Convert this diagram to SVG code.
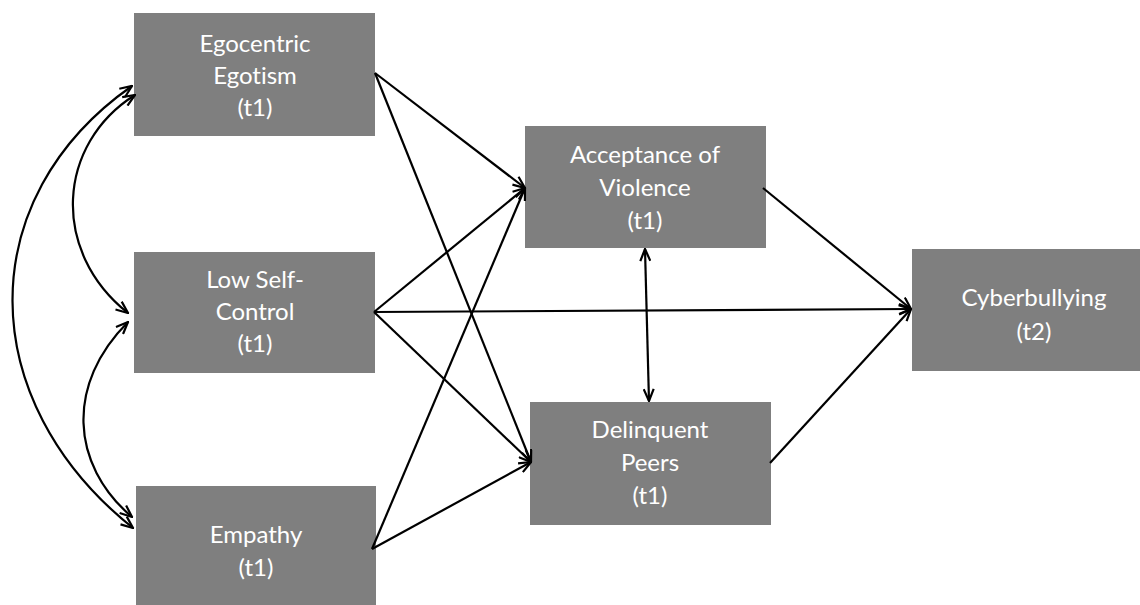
<svg xmlns="http://www.w3.org/2000/svg" width="1140" height="605" viewBox="0 0 1140 605">
<style>
.box{fill:#7f7f7f;}
.lbl{font-family:Lato,"Liberation Sans",sans-serif;font-size:24px;fill:#ffffff;text-anchor:middle;font-variant-ligatures:none;}
.c{fill:none;stroke:#000;stroke-width:2.2;}
</style>
<defs>
<marker id="ah" viewBox="0 0 14 12" refX="13" refY="6" markerWidth="14" markerHeight="12" markerUnits="userSpaceOnUse" orient="auto-start-reverse">
<path d="M1,1 L13,6 L1,11" fill="none" stroke="#000" stroke-width="2.2"/>
</marker>
</defs>
<rect width="1140" height="605" fill="#fff"/>
<g id="egocentric"><rect class="box" x="134" y="13" width="241" height="123"/><text class="lbl" x="255" y="52">Egocentric</text><text class="lbl" x="255" y="84">Egotism</text><text class="lbl" x="255" y="116">(t1)</text></g>
<g id="lowself"><rect class="box" x="134" y="252" width="241" height="121"/><text class="lbl" x="255" y="288">Low Self-</text><text class="lbl" x="255" y="320">Control</text><text class="lbl" x="255" y="352">(t1)</text></g>
<g id="empathy"><rect class="box" x="136" y="486" width="240" height="119"/><text class="lbl" x="256" y="543">Empathy</text><text class="lbl" x="256" y="576">(t1)</text></g>
<g id="acceptance"><rect class="box" x="525" y="126" width="241" height="122"/><text class="lbl" x="645" y="163">Acceptance of</text><text class="lbl" x="645" y="196">Violence</text><text class="lbl" x="645" y="229">(t1)</text></g>
<g id="delinquent"><rect class="box" x="530" y="402" width="241" height="123"/><text class="lbl" x="650" y="438">Delinquent</text><text class="lbl" x="650" y="471">Peers</text><text class="lbl" x="650" y="504">(t1)</text></g>
<g id="cyberbullying"><rect class="box" x="912" y="249" width="228" height="122"/><text class="lbl" x="1034" y="306">Cyberbullying</text><text class="lbl" x="1034" y="340">(t2)</text></g>
<g id="connectors">
<line class="c" x1="375" y1="73" x2="525" y2="188" marker-end="url(#ah)"/>
<line class="c" x1="375" y1="73" x2="531" y2="462" marker-end="url(#ah)"/>
<line class="c" x1="374" y1="312" x2="525" y2="188" marker-end="url(#ah)"/>
<line class="c" x1="374" y1="312" x2="911" y2="309" marker-end="url(#ah)"/>
<line class="c" x1="374" y1="312" x2="531" y2="462" marker-end="url(#ah)"/>
<line class="c" x1="372" y1="549" x2="525" y2="188" marker-end="url(#ah)"/>
<line class="c" x1="372" y1="549" x2="531" y2="462" marker-end="url(#ah)"/>
<line class="c" x1="763" y1="188" x2="911" y2="309" marker-end="url(#ah)"/>
<line class="c" x1="770" y1="463" x2="911" y2="309" marker-end="url(#ah)"/>
<line class="c" x1="645" y1="249" x2="649" y2="401" marker-start="url(#ah)" marker-end="url(#ah)"/>
<path class="c" d="M132,86 C-28,198 -27,400 133,528" marker-start="url(#ah)" marker-end="url(#ah)"/>
<path class="c" d="M135,95 C57,144 50,251 128,313" marker-start="url(#ah)" marker-end="url(#ah)"/>
<path class="c" d="M128,322 C66,384 70,464 132,517" marker-start="url(#ah)" marker-end="url(#ah)"/>
</g>
</svg>
